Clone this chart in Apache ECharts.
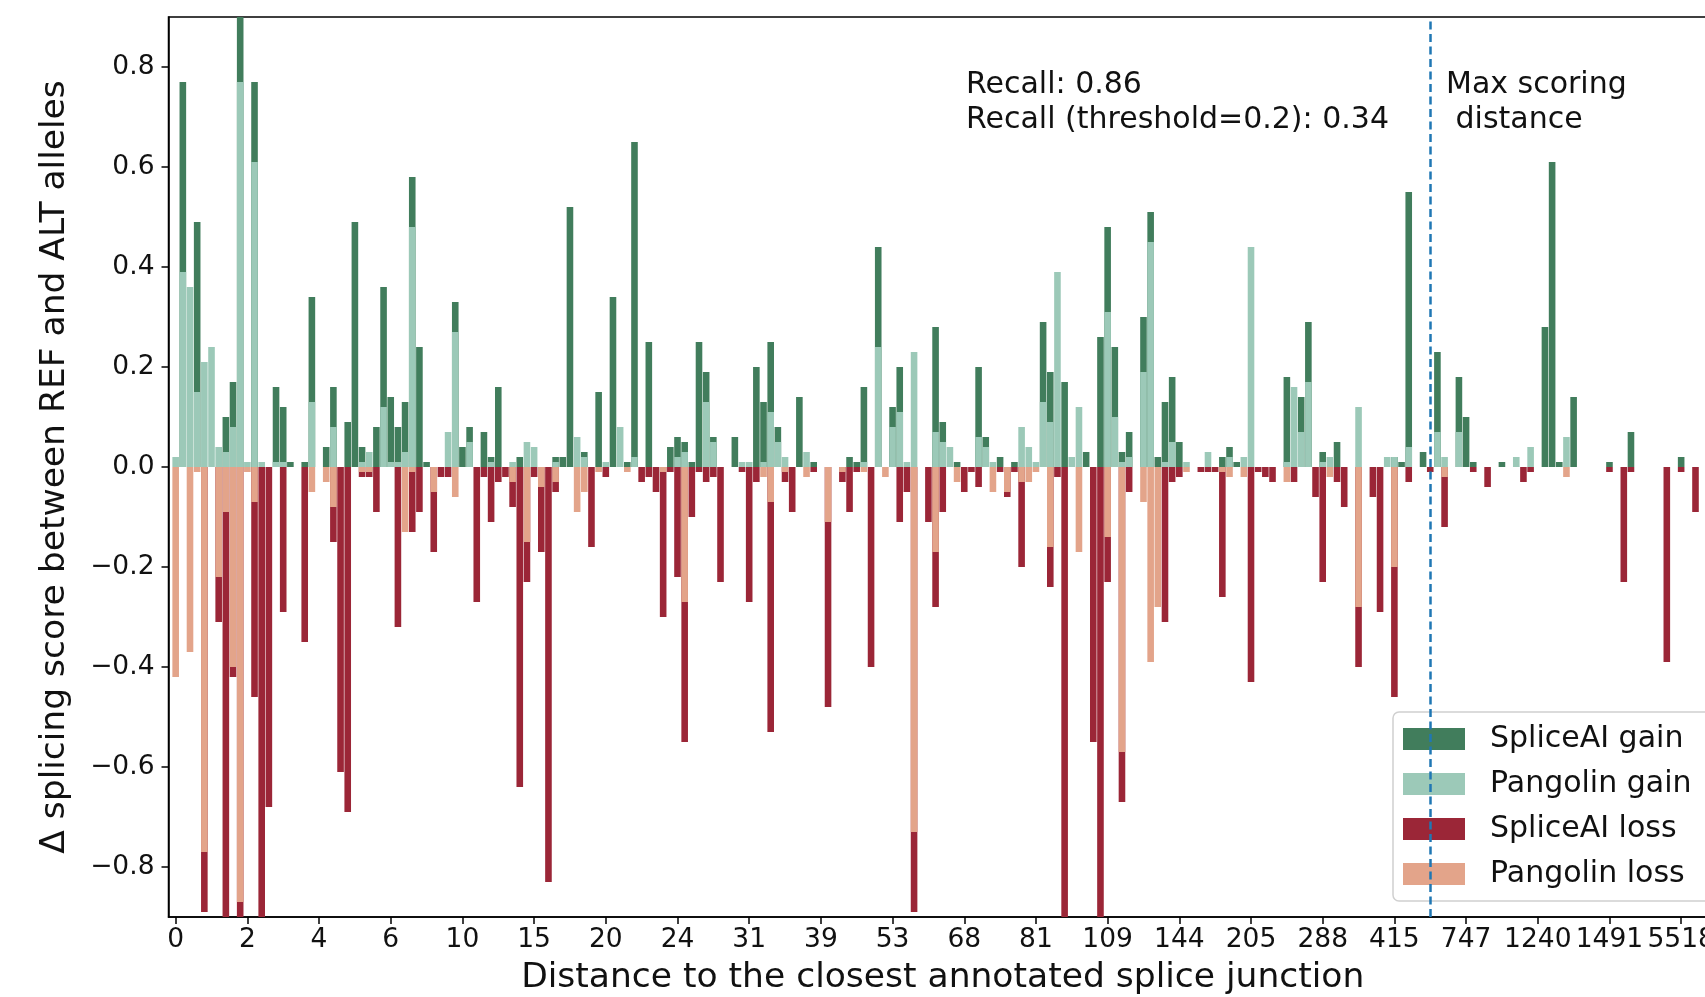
<!DOCTYPE html>
<html>
<head>
<meta charset="utf-8">
<script src="https://cdn.jsdelivr.net/npm/echarts@6/dist/echarts.min.js"></script>
<style>
html, body { margin: 0; padding: 0; overflow: hidden; background: #fff; }
#main { width: 1705px; height: 997px; }
</style>
</head>
<body>
<div id="main"></div>
<script>
// variants sorted by distance, one bar slot each; ticks every 10th variant
var tickIdx = [0, 10, 20, 30, 40, 50, 60, 70, 80, 90, 100, 110, 120, 130, 140, 150, 160, 170, 180, 190, 200, 210];
var tickLabels = ['0', '2', '4', '6', '10', '15', '20', '24', '31', '39', '53', '68', '81', '109', '144', '205', '288', '415', '747', '1240', '1491', '5518'];
var yTicks = [-0.8, -0.6, -0.4, -0.2, 0, 0.2, 0.4, 0.6, 0.8];
var maxScoringIdx = 175;

var spliceaiGain = [
    0, .77, 0, .49, 0, 0, 0, .10, .17, .95,
    0, .77, 0, 0, .16, .12, .01, 0, .01, .34,
    0, .04, .16, 0, .09, .49, .04, 0, .08, .36,
    .14, .08, .13, .58, .24, .01, 0, 0, 0, .33,
    .04, .08, 0, .07, .02, .16, 0, 0, .02, 0,
    0, 0, 0, .02, .02, .52, 0, .03, 0, .15,
    0, .34, 0, .01, .65, 0, .25, 0, 0, .04,
    .06, .05, .01, .25, .19, .06, 0, 0, .06, 0,
    0, .20, .13, .25, .08, 0, 0, .14, 0, .01,
    0, 0, 0, 0, .02, .01, .16, 0, .44, 0,
    .12, .20, 0, 0, 0, 0, .28, .09, 0, .01,
    0, 0, .20, .06, 0, .02, 0, .01, 0, 0,
    0, .29, .19, 0, .17, 0, 0, .03, 0, .26,
    .48, .24, .03, .07, 0, .30, .51, .02, .13, .18,
    .05, 0, 0, 0, 0, 0, .02, .04, .01, 0,
    0, 0, 0, 0, 0, .18, 0, .14, .29, 0,
    .03, 0, .05, 0, 0, 0, 0, 0, 0, 0,
    .02, .01, .55, 0, .03, 0, .23, 0, 0, .18,
    .10, .01, 0, 0, 0, .01, 0, 0, 0, 0,
    0, .28, .61, .01, 0, .14, 0, 0, 0, 0,
    .01, 0, 0, .07, 0, 0, 0, 0, 0, 0,
    .02, 0, 0, 0
];
var pangolinGain = [
    .02, .39, .36, .15, .21, .24, .04, .03, .08, .77,
    .01, .61, .01, 0, .01, .01, 0, 0, 0, .13,
    0, 0, .08, 0, 0, 0, .01, .03, 0, .12,
    .01, .01, .03, .48, 0, 0, 0, 0, .07, .27,
    0, .05, 0, 0, .01, 0, 0, .01, 0, .05,
    .04, 0, 0, .01, 0, 0, .06, .02, 0, 0,
    .01, 0, .08, 0, .02, 0, 0, 0, 0, 0,
    .02, .03, 0, 0, .13, .05, 0, 0, 0, .01,
    .01, 0, .01, .11, .05, .02, 0, 0, .03, 0,
    0, 0, 0, 0, 0, 0, .01, 0, .24, 0,
    .08, .11, .01, .23, 0, 0, .07, .05, .04, 0,
    0, 0, .06, .04, .01, 0, 0, 0, .08, .04,
    .01, .13, .09, .39, 0, .02, .12, 0, 0, 0,
    .31, .10, .01, .02, 0, .19, .45, 0, .01, .05,
    0, .01, 0, 0, .03, 0, 0, .02, 0, .02,
    .44, 0, 0, 0, 0, .01, .16, .07, .17, 0,
    .01, .02, 0, 0, 0, .12, 0, 0, 0, .02,
    .02, 0, .04, 0, 0, 0, .07, .02, 0, .07,
    0, 0, 0, 0, 0, 0, 0, .02, 0, .04,
    0, 0, 0, 0, .06, 0, 0, 0, 0, 0,
    0, 0, 0, 0, 0, 0, 0, 0, 0, 0,
    0, 0, 0, 0
];
var spliceaiLoss = [
    0, 0, 0, 0, -.89, 0, -.31, -.95, -.42, -.95,
    0, -.46, -.95, -.68, 0, -.29, 0, 0, -.35, 0,
    0, 0, -.15, -.61, -.69, 0, -.02, -.02, -.09, 0,
    0, -.32, 0, -.13, -.09, 0, -.17, -.02, -.02, 0,
    0, 0, -.27, -.02, -.11, -.03, -.02, -.08, -.64, -.23,
    -.02, -.17, -.83, -.05, 0, 0, 0, 0, -.16, 0,
    -.02, 0, 0, 0, 0, -.03, -.02, -.05, -.30, -.01,
    -.22, -.55, -.10, -.01, -.03, -.02, -.23, 0, 0, -.01,
    -.27, -.03, 0, -.53, 0, -.03, -.09, 0, 0, -.01,
    0, -.48, 0, -.03, -.09, -.01, 0, -.40, 0, 0,
    0, -.11, -.05, -.89, 0, -.11, -.28, -.09, 0, 0,
    -.05, -.01, -.04, 0, 0, -.01, -.06, -.01, -.20, 0,
    0, 0, -.24, -.02, -.95, 0, 0, 0, -.55, -.95,
    -.23, 0, -.67, -.05, 0, 0, 0, 0, -.31, -.03,
    -.02, 0, 0, -.01, -.01, -.01, -.26, 0, 0, 0,
    -.43, -.01, -.02, -.03, 0, 0, -.03, 0, 0, -.06,
    -.23, 0, -.03, -.08, 0, -.40, 0, -.06, -.29, 0,
    -.46, 0, -.03, 0, 0, -.01, 0, -.12, 0, 0,
    0, -.01, 0, -.04, 0, 0, 0, 0, -.03, -.01,
    0, 0, 0, 0, 0, 0, 0, 0, 0, 0,
    -.01, 0, -.23, -.01, 0, 0, 0, 0, -.39, 0,
    -.01, 0, -.09, 0
];
var pangolinLoss = [
    -.42, 0, -.37, -.01, -.77, 0, -.22, -.09, -.40, -.87,
    -.01, -.07, 0, 0, 0, 0, 0, 0, 0, -.05,
    0, -.03, -.08, 0, 0, 0, -.01, -.01, 0, 0,
    0, 0, -.13, -.01, 0, 0, -.05, 0, 0, -.06,
    0, 0, 0, 0, 0, 0, 0, -.03, 0, -.15,
    0, -.04, 0, -.03, 0, 0, -.09, -.05, 0, -.01,
    0, 0, 0, -.01, 0, 0, 0, 0, -.01, 0,
    0, -.27, 0, 0, 0, 0, 0, 0, 0, 0,
    0, 0, -.02, -.07, 0, -.01, 0, 0, -.02, 0,
    0, -.11, 0, -.01, 0, 0, -.01, 0, 0, -.02,
    0, 0, 0, -.73, 0, 0, -.17, 0, 0, -.03,
    0, 0, 0, 0, -.05, 0, -.05, 0, -.03, -.03,
    -.01, 0, -.16, 0, 0, 0, -.17, 0, 0, 0,
    -.14, 0, -.57, 0, 0, -.07, -.39, -.28, 0, 0,
    0, -.01, 0, 0, 0, 0, -.01, -.02, 0, -.02,
    0, 0, 0, 0, 0, -.03, 0, 0, 0, 0,
    0, -.02, 0, 0, 0, -.28, 0, 0, 0, 0,
    -.20, 0, 0, 0, 0, 0, 0, -.02, 0, 0,
    0, 0, 0, 0, 0, 0, 0, 0, 0, 0,
    0, 0, 0, 0, -.02, 0, 0, 0, 0, 0,
    0, 0, 0, 0, 0, 0, 0, 0, 0, 0,
    0, 0, 0, 0
];

var FONT = 'DejaVu Sans';
var colors = ['#417d5c', '#9cc9b8', '#9b2637', '#e3a48a'];

function toPairs(arr) {
    return arr.map(function (v, i) { return [i, v]; });
}

function barSeries(name, arr, color) {
    return {
        name: name,
        type: 'bar',
        data: toPairs(arr),
        barWidth: 6.6,
        barGap: '-100%',
        itemStyle: { color: color },
        emphasis: { disabled: true }
    };
}

var series = [
    barSeries('SpliceAI gain', spliceaiGain, colors[0]),
    barSeries('Pangolin gain', pangolinGain, colors[1]),
    barSeries('SpliceAI loss', spliceaiLoss, colors[2]),
    barSeries('Pangolin loss', pangolinLoss, colors[3])
];
// dashed line at the max scoring distance
series[3].markLine = {
    silent: true,
    symbol: 'none',
    label: { show: false },
    lineStyle: { color: '#1f77b4', type: [8, 4.5], width: 2.5 },
    data: [{ xAxis: maxScoringIdx }]
};

var myChart = echarts.init(document.getElementById('main'));

myChart.setOption({
    animation: false,
    textStyle: { fontFamily: FONT },
    grid: {
        left: 168.5, top: 17, right: -12, bottom: 80,
        show: true, borderColor: '#000', borderWidth: 1.5,
        backgroundColor: 'transparent',
        outerBoundsMode: 'none'
    },
    legend: {
        orient: 'vertical',
        left: 1393, top: 712,
        data: ['SpliceAI gain', 'Pangolin gain', 'SpliceAI loss', 'Pangolin loss'],
        icon: 'rect',
        itemWidth: 62, itemHeight: 22, itemGap: 15,
        selectedMode: false,
        padding: [12, 20, 12, 10],
        borderColor: '#d0d0d0', borderWidth: 1.5, borderRadius: 6,
        backgroundColor: 'rgba(255,255,255,0.8)',
        textStyle: { fontFamily: FONT, fontSize: 30, color: '#111', padding: [0, 0, 0, 20] }
    },
    xAxis: {
        type: 'value',
        min: -1, max: 215,
        name: 'Distance to the closest annotated splice junction',
        nameLocation: 'middle',
        nameGap: 44,
        nameTextStyle: { fontFamily: FONT, fontSize: 34.5, color: '#111' },
        axisLine: { show: true, onZero: false, lineStyle: { color: '#000', width: 1.5 } },
        axisTick: { show: true, length: 7, customValues: tickIdx, lineStyle: { color: '#000', width: 1.5 } },
        axisLabel: {
            customValues: tickIdx,
            margin: 10,
            fontFamily: FONT, fontSize: 26.5, color: '#111',
            formatter: function (v) { return tickLabels[tickIdx.indexOf(v)]; }
        },
        splitLine: { show: false }
    },
    yAxis: {
        type: 'value',
        min: -0.9, max: 0.9,
        name: 'Δ splicing score between REF and ALT alleles',
        nameLocation: 'middle',
        nameGap: 96,
        nameTextStyle: { fontFamily: FONT, fontSize: 34.5, color: '#111' },
        axisLine: { show: true, onZero: false, lineStyle: { color: '#000', width: 1.5 } },
        axisTick: { show: true, length: 7, customValues: yTicks, lineStyle: { color: '#000', width: 1.5 } },
        axisLabel: {
            customValues: yTicks,
            margin: 14,
            fontFamily: FONT, fontSize: 26.5, color: '#111',
            formatter: function (v) { return v.toFixed(1).replace('-', '\u2212'); }
        },
        splitLine: { show: false }
    },
    graphic: [
        {
            type: 'text', left: 966, top: 68, z: 100,
            style: {
                text: 'Recall: 0.86\nRecall (threshold=0.2): 0.34',
                font: '30px "DejaVu Sans"', fill: '#111', lineHeight: 35
            }
        },
        {
            type: 'text', left: 1446, top: 68, z: 100,
            style: {
                text: 'Max scoring\n distance',
                font: '30px "DejaVu Sans"', fill: '#111', lineHeight: 35
            }
        }
    ],
    series: series
});
</script>
</body>
</html>
